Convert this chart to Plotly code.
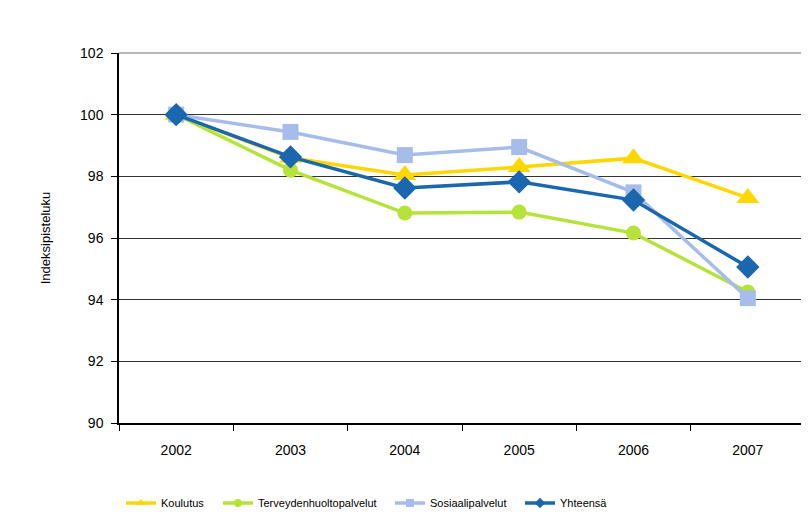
import plotly.graph_objects as go

years = ["2002", "2003", "2004", "2005", "2006", "2007"]
koulutus = [100.0, 98.6, 98.04, 98.3, 98.59, 97.3]
terveys = [100.0, 98.2, 96.81, 96.84, 96.16, 94.25]
sosiaali = [100.0, 99.44, 98.69, 98.95, 97.48, 94.05]
yhteensa = [100.0, 98.63, 97.62, 97.82, 97.23, 95.06]

series_names = ["Koulutus", "Terveydenhuoltopalvelut", "Sosiaalipalvelut", "Yhteensä"]
y_ticks = [90, 92, 94, 96, 98, 100, 102]

font_main = "Liberation Sans, Arial, sans-serif"
W, H = 801, 513

fig = go.Figure()
styles = [
    (koulutus, "#FFD700", "triangle-up", 20),
    (terveys, "#B5E33A", "circle", 15),
    (sosiaali, "#A6BDEB", "square", 16),
    (yhteensa, "#1A67AF", "diamond", 18),
]
legend_ids = ["legend", "legend2", "legend3", "legend4"]
legend_px = [113, 210, 382, 512]
for name, (vals, col, sym, sz), lid in zip(series_names, styles, legend_ids):
    fig.add_trace(go.Scatter(
        x=years, y=vals, name=name, mode="lines+markers",
        line=dict(color=col, width=3.5),
        marker=dict(symbol=sym, size=sz, color=col),
        showlegend=False,
    ))
    # legend-only entry with small marker
    fig.add_trace(go.Scatter(
        x=[None], y=[None], name=name, mode="lines+markers",
        line=dict(color=col, width=3.5),
        marker=dict(symbol=sym, size=8, color=col),
        legend=lid, showlegend=True, hoverinfo="skip",
    ))

legend_common = dict(
    orientation="h", xref="container", yref="container",
    y=0.035, yanchor="middle", xanchor="left",
    font=dict(size=11, family="Liberation Sans Narrow, Liberation Sans, Arial"),
    itemwidth=30, bgcolor="rgba(0,0,0,0)",
)
legend_layout = {}
for lid, px in zip(legend_ids, legend_px):
    legend_layout[lid] = dict(legend_common, x=px / W)

fig.update_layout(
    width=W, height=H,
    margin=dict(l=111, r=4, t=45, b=98),
    paper_bgcolor="white", plot_bgcolor="white",
    font=dict(family=font_main, color="#000000", size=14),
    showlegend=True,
    **legend_layout,
    xaxis=dict(
        type="category", tickson="boundaries", showgrid=False,
        showline=True, linecolor="#000000", linewidth=1.5,
        ticks="outside", ticklen=6, tickcolor="#000000",
        tickfont=dict(size=14), range=[-0.5, 5.5], ticklabelstandoff=13,
    ),
    yaxis=dict(
        range=[90, 102], tickvals=y_ticks, ticktext=[str(t) for t in y_ticks],
        showgrid=True, gridcolor="#333333", gridwidth=1.2,
        showline=True, linecolor="#000000", linewidth=1.5,
        ticks="outside", ticklen=6, tickcolor="#000000",
        tickfont=dict(size=14), zeroline=False, ticklabelstandoff=5,
        title=dict(text="Indeksipisteluku", font=dict(size=13), standoff=27),
    ),
)
fig.add_shape(type="line", xref="paper", yref="paper", x0=1, x1=1, y0=-0.02, y1=1,
              line=dict(color="#A0A0A0", width=1.5))
fig.add_shape(type="line", xref="paper", yref="paper", x0=0, x1=1, y0=1, y1=1,
              line=dict(color="#A0A0A0", width=1.5))

fig.write_html("out.html")
